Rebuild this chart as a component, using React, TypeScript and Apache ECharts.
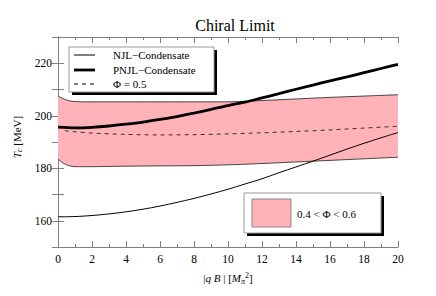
import React, { useEffect, useRef } from "react";
import * as echarts from "echarts";

const xBand = [0, 0.25, 0.5, 0.75, 1, 1.5, 2, 3, 4, 6, 8, 10, 12, 14, 16, 18, 20];
const bandUpper = [207.5, 206.7, 206.0, 205.6, 205.4, 205.3, 205.3, 205.3, 205.3, 205.3, 205.3, 205.3, 205.8, 206.4, 207.0, 207.5, 208.0];
const bandLower = [183.5, 182.2, 181.3, 180.8, 180.6, 180.6, 180.6, 180.7, 180.8, 180.9, 181.0, 181.3, 181.8, 182.4, 183.0, 183.6, 184.2];

const xLine = [0, 1, 2, 3, 4, 5, 6, 7, 8, 9, 10, 11, 12, 13, 14, 15, 16, 17, 18, 19, 20];
const pnjl = [195.7, 195.4, 195.6, 196.1, 196.8, 197.6, 198.6, 199.7, 201.0, 202.4, 203.9, 205.2, 206.8, 208.4, 210.1, 211.7, 213.3, 214.8, 216.4, 218.0, 219.6];
const njl = [161.5, 161.6, 162.0, 162.6, 163.4, 164.4, 165.6, 167.0, 168.5, 170.2, 172.0, 174.0, 176.0, 178.3, 180.5, 182.7, 185.0, 187.3, 189.5, 191.6, 193.6];

const xDash = [0.4, 1, 2, 4, 6, 8, 10, 12, 14, 16, 18, 20];
const phiHalf = [194.3, 193.9, 193.4, 192.9, 192.7, 192.8, 193.1, 193.5, 194.0, 194.6, 195.3, 196.0];

const legendLabels = ["NJL\u2212Condensate", "PNJL\u2212Condensate", "\u03a6 = 0.5"];
const bandLabel = "0.4 < \u03a6 < 0.6";
const title = "Chiral Limit";

const FONT = "Liberation Serif";
const PINK = "#ffb3b8";
const AXIS = "#808080";

export default function App() {
  const ref = useRef<HTMLDivElement>(null);
  useEffect(() => {
    if (!ref.current) return;
    const chart = echarts.init(ref.current, undefined, { renderer: "svg" });
    const zip = (xs: number[], ys: number[]) => xs.map((x, i) => [x, ys[i]]);
    const axisCommon = {
      type: "value" as const,
      axisLine: { show: true, lineStyle: { color: AXIS, width: 1 } },
      splitLine: { show: false },
    };
    const option: any = {
      animation: false,
      backgroundColor: "#fff",
      textStyle: { fontFamily: FONT },
      title: {
        text: title,
        left: 230,
        top: 12,
        textAlign: "center",
        textStyle: { fontFamily: FONT, fontSize: 16, fontWeight: "normal", color: "#000" },
      },
      grid: { left: 58, right: 38, top: 37, bottom: 49 },
      xAxis: [
        {
          ...axisCommon,
          min: 0,
          max: 20,
          interval: 2,
          position: "bottom",
          axisTick: { show: true, inside: true, length: 6, lineStyle: { color: AXIS } },
          minorTick: { show: true, splitNumber: 2, length: 3, lineStyle: { color: AXIS } },
          axisLabel: { fontFamily: FONT, fontSize: 11.5, color: "#000", margin: 6 },
          name: "{a||}{i|q B}{a| | [}{i|M}{s|\u03c0}{p|2}{a|]}",
          nameLocation: "middle",
          nameGap: 24,
          nameTextStyle: {
            fontFamily: FONT,
            fontSize: 11,
            color: "#000",
            rich: {
              a: { fontFamily: FONT, fontSize: 11, color: "#000" },
              i: { fontFamily: FONT, fontSize: 11, fontStyle: "italic", color: "#000" },
              s: { fontFamily: FONT, fontSize: 8, fontStyle: "italic", color: "#000", padding: [6, 0, 0, 0] },
              p: { fontFamily: FONT, fontSize: 8, color: "#000", padding: [0, 0, 6, 0] },
            },
          },
        },
        {
          ...axisCommon,
          min: 0,
          max: 20,
          interval: 2,
          position: "top",
          axisTick: { show: true, inside: true, length: 6, lineStyle: { color: AXIS } },
          minorTick: { show: true, splitNumber: 2, length: 3, lineStyle: { color: AXIS } },
          axisLabel: { show: false },
        },
      ],
      yAxis: [
        {
          ...axisCommon,
          min: 150,
          max: 230,
          interval: 10,
          position: "left",
          axisTick: { show: true, inside: true, length: 6, lineStyle: { color: AXIS } },
          axisLabel: {
            fontFamily: FONT,
            fontSize: 11.5,
            color: "#000",
            margin: 6,
            formatter: (v: number) => (v % 20 === 0 ? String(v) : ""),
          },
          name: "{i|T}{s|c} {a|[MeV]}",
          nameLocation: "middle",
          nameGap: 32,
          nameRotate: 90,
          nameTextStyle: {
            fontFamily: FONT,
            fontSize: 11,
            color: "#000",
            padding: [0, 0, 0, 10],
            rich: {
              a: { fontFamily: FONT, fontSize: 11, color: "#000" },
              i: { fontFamily: FONT, fontSize: 11, fontStyle: "italic", color: "#000" },
              s: { fontFamily: FONT, fontSize: 8, fontStyle: "italic", color: "#000", padding: [6, 0, 0, 0] },
            },
          },
        },
        {
          ...axisCommon,
          min: 150,
          max: 230,
          interval: 10,
          position: "right",
          axisTick: { show: true, inside: true, length: 6, lineStyle: { color: AXIS } },
          axisLabel: { show: false },
        },
      ],
      series: [
        {
          type: "custom",
          xAxisIndex: 0,
          yAxisIndex: 0,
          z: 1,
          silent: true,
          encode: { x: 0, y: [1, 2] },
          data: xBand.map((x, i) => [x, bandLower[i], bandUpper[i]]),
          renderItem: (params: any, api: any) => {
            if (params.dataIndex !== 0) return { type: "group", children: [] };
            const top = xBand.map((x, i) => api.coord([x, bandUpper[i]]));
            const bot = xBand.map((x, i) => api.coord([x, bandLower[i]])).reverse();
            return {
              type: "polygon",
              shape: { points: top.concat(bot) },
              style: { fill: PINK, stroke: "none" },
            };
          },
        },
        {
          type: "line",
          data: zip(xBand, bandUpper),
          showSymbol: false,
          smooth: 0.3,
          z: 3,
          lineStyle: { color: "#333", width: 0.9 },
        },
        {
          type: "line",
          data: zip(xBand, bandLower),
          showSymbol: false,
          smooth: 0.3,
          z: 3,
          lineStyle: { color: "#333", width: 0.9 },
        },
        {
          type: "line",
          data: zip(xDash, phiHalf),
          showSymbol: false,
          smooth: 0.3,
          z: 3,
          lineStyle: { color: "#222", width: 0.9, type: [4, 4] },
        },
        {
          type: "line",
          data: zip(xLine, njl),
          showSymbol: false,
          smooth: 0.3,
          z: 4,
          lineStyle: { color: "#000", width: 1 },
        },
        {
          type: "line",
          data: zip(xLine, pnjl),
          showSymbol: false,
          smooth: 0.3,
          z: 5,
          lineStyle: { color: "#000", width: 2.8 },
        },
      ],
      graphic: [
        { type: "rect", z: 100, shape: { x: 72, y: 50, width: 145, height: 45 }, style: { fill: "#000" } },
        { type: "rect", z: 101, shape: { x: 69, y: 47, width: 145, height: 45 }, style: { fill: "#fff", stroke: "#999", lineWidth: 1 } },
        { type: "line", z: 102, shape: { x1: 74, y1: 55, x2: 95, y2: 55 }, style: { stroke: "#000", lineWidth: 1 } },
        { type: "line", z: 102, shape: { x1: 74, y1: 70, x2: 95, y2: 70 }, style: { stroke: "#000", lineWidth: 2.8 } },
        { type: "line", z: 102, shape: { x1: 74, y1: 84, x2: 95, y2: 84 }, style: { stroke: "#000", lineWidth: 1, lineDash: [4, 4] } },
        ...legendLabels.map((t, i) => ({
          type: "text",
          z: 102,
          x: 113,
          y: [55, 70, 84][i],
          style: { text: t, fontFamily: FONT, fontSize: 11, fill: "#000", verticalAlign: "middle" },
        })),
        { type: "rect", z: 100, shape: { x: 247, y: 196, width: 137, height: 40 }, style: { fill: "#000" } },
        { type: "rect", z: 101, shape: { x: 244, y: 193, width: 137, height: 40 }, style: { fill: "#fff", stroke: "#999", lineWidth: 1 } },
        { type: "rect", z: 102, shape: { x: 252, y: 199, width: 39, height: 28 }, style: { fill: PINK, stroke: "#888", lineWidth: 1 } },
        {
          type: "text",
          z: 102,
          x: 297,
          y: 214,
          style: { text: bandLabel, fontFamily: FONT, fontSize: 11, fill: "#000", verticalAlign: "middle" },
        },
      ],
    };
    chart.setOption(option);
    return () => chart.dispose();
  }, []);
  return <div ref={ref} style={{ width: 436, height: 296, margin: -8 }} />;
}
